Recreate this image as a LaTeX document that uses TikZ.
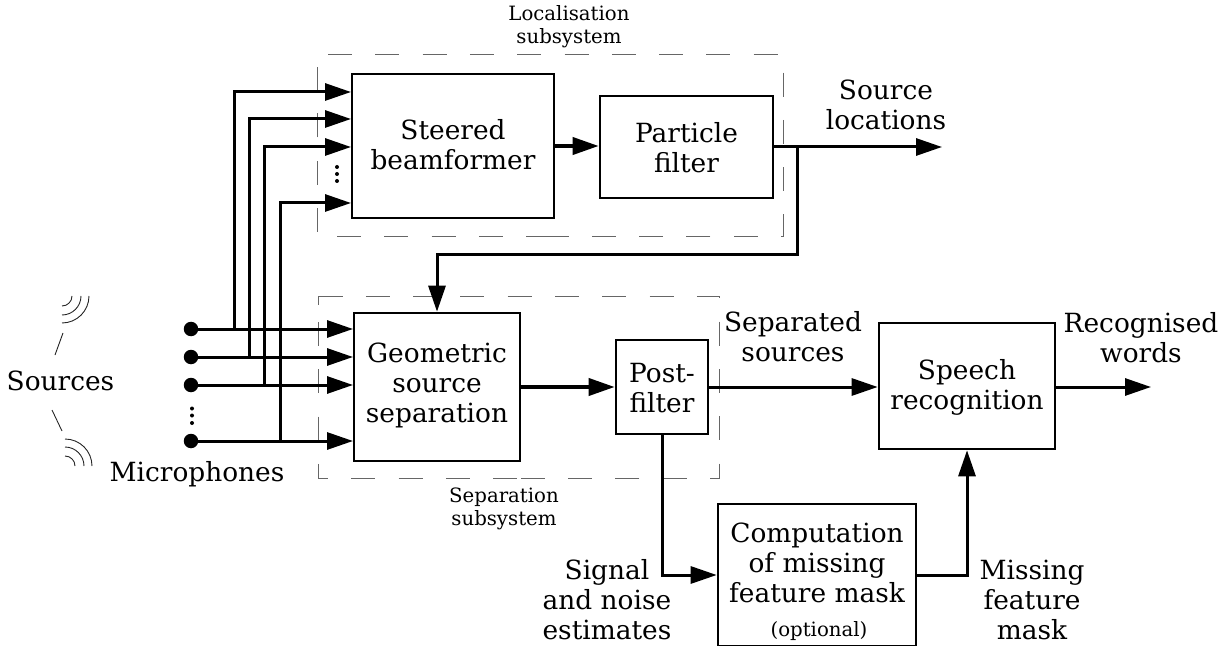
\documentclass[tikz,border=0pt]{standalone}
\usepackage{fontspec}
\setmainfont{DejaVu Serif}
\usetikzlibrary{arrows.meta}
\tikzset{
  blockbox/.style={draw=black,line width=2.6bp,fill=white,align=center,inner sep=0pt,font=\fontsize{26.5}{30}\selectfont},
  lbl/.style={align=center,inner sep=0pt,font=\fontsize{26.5}{30}\selectfont},
  smalllbl/.style={align=center,inner sep=0pt,font=\fontsize{19.8}{23}\selectfont},
  wire/.style={line width=3bp,-{Triangle[length=26bp,width=17bp]}},
  boldwire/.style={line width=3.8bp,-{Triangle[length=26bp,width=17bp]}},
  group/.style={draw=black!60,line width=1bp,dash pattern=on 24bp off 23.3bp},
  groupsolid/.style={draw=black!60,line width=1bp},
  thin line/.style={line width=0.9bp,draw=black!85},
  mic/.style={circle,fill=black,inner sep=0pt,minimum size=14.5bp},
  dotc/.style={circle,fill=black,inner sep=0pt,minimum size=4bp},
}
\begin{document}
\begin{tikzpicture}[x=1bp,y=-1bp]
\useasboundingbox (0,0) rectangle (1226,646);
% groups
\draw[group] (328,54.5) -- (783,54.5) -- (783,236.5) -- (543,236.5);
\draw[group] (337,236.5) -- (549,236.5);
\draw[group] (317,232) -- (317,67);
\draw[group] (318.5,296.5) -- (719,296.5) -- (719,478.5) -- (520,478.5);
\draw[group] (318.5,322) -- (318.5,478.5) -- (520,478.5);
\draw[groupsolid] (318.5,296.5) -- (318.5,305);
% blocks
\node[blockbox,minimum width=202bp,minimum height=144bp] (steer) at (453,146) {};
\node[lbl] (steertext) at (453,145) {Steered\\beamformer};
\node[blockbox,minimum width=173bp,minimum height=102bp] (pf) at (686.5,147) {};
\node[lbl] (pftext) at (686.5,148) {Particle\\filter};
\node[blockbox,minimum width=166bp,minimum height=148bp] (gss) at (437,387) {};
\node[lbl] (gsstext) at (437,385.5) {Geometric\\source\\separation};
\node[blockbox,minimum width=92bp,minimum height=94bp] (post) at (662,387) {};
\node[lbl] (posttext) at (662,388) {Post-\\filter};
\node[blockbox,minimum width=176bp,minimum height=126bp] (asr) at (967,386) {};
\node[lbl] (asrtext) at (967,387) {Speech\\recognition};
\node[draw=black,line width=2.6bp,fill=white,minimum width=198bp,minimum height=142bp] (mask) at (817,575) {};
\node[lbl] (masktext) at (817,563) {Computation\\of missing\\feature mask};
\node[smalllbl] (opt) at (819,631) {(optional)};
% microphones
\node[mic] (m1) at (191,329) {};
\node[mic] (m2) at (191,357) {};
\node[mic] (m3) at (191,385) {};
\node[mic] (m4) at (191,441) {};
\node[dotc] at (192,408.5) {};
\node[dotc] at (192,415.5) {};
\node[dotc] at (192,423) {};
\node[dotc] at (337,167) {};
\node[dotc] at (337,174) {};
\node[dotc] at (337,181) {};
% junctions
\coordinate (j1) at (234.5,329); \coordinate (t1) at (234.5,92);
\coordinate (j2) at (249.3,357); \coordinate (t2) at (249.3,119);
\coordinate (j3) at (264,385); \coordinate (t3) at (264,147);
\coordinate (j4) at (280,441); \coordinate (t4) at (280,203);
\coordinate (e1) at (353,329);
\coordinate (e2) at (353,357);
\coordinate (e3) at (353,385);
\coordinate (e4) at (353,441);
\coordinate (h1) at (351,92);
\coordinate (h2) at (351,119);
\coordinate (h3) at (351,147);
\coordinate (h4) at (351,203);
\draw[wire] (m1) -- (e1);
\draw[wire] (m2) -- (e2);
\draw[wire] (m3) -- (e3);
\draw[wire] (m4) -- (e4);
\draw[wire] (j1) -- (t1) -- (h1);
\draw[wire] (j2) -- (t2) -- (h2);
\draw[wire] (j3) -- (t3) -- (h3);
\draw[wire] (j4) -- (t4) -- (h4);
% signal flow
\coordinate (sl) at (942,147);
\coordinate (b1) at (797,147);
\coordinate (b2) at (797,255);
\coordinate (b3) at (437,255);
\coordinate (rw) at (1151,387);
\coordinate (pb) at (662,575);
\coordinate (mb) at (967,575);
\draw[boldwire] (steer.east |- 0,146) -- (pf.west |- 0,146);
\draw[wire] (pf.east) -- (sl);
\draw[wire] (b1) -- (b2) -- (b3) -- (gss.north);
\draw[boldwire] (gss.east) -- (post.west);
\draw[wire] (post.east) -- (asr.west |- post.east);
\draw[wire] (asr.east |- rw) -- (rw);
\draw[wire] (post.south) -- (pb) -- (mask.west);
\draw[wire] (mask.east) -- (mb) -- (asr.south);
% text
\node[lbl] (a) at (886,104.5) {Source\\locations};
\node[lbl] (b) at (793,337) {Separated\\sources};
\node[lbl] (c) at (1141,337.5) {Recognised\\words};
\node[lbl] (d) at (607,600) {Signal\\and noise\\estimates};
\node[lbl] (e) at (1032,600) {Missing\\feature\\mask};
\node[lbl] (f) at (197,474.5) {Microphones};
\node[lbl] (s) at (60.5,380.5) {Sources};
\node[smalllbl] (g) at (569,27) {Localisation\\subsystem};
\node[smalllbl] (h) at (504,508.5) {Separation\\subsystem};
% sources
\draw[thin line] (63,333) -- (55,355);
\draw[thin line] (52,410) -- (62,431);
\draw[thin line] (89,296) arc[start angle=0,end angle=-90,radius=27bp];
\draw[thin line] (81,296) arc[start angle=0,end angle=-90,radius=19bp];
\draw[thin line] (72,296) arc[start angle=0,end angle=-90,radius=10bp];
\draw[thin line] (65,439) arc[start angle=90,end angle=0,radius=27bp];
\draw[thin line] (65,447) arc[start angle=90,end angle=0,radius=19bp];
\draw[thin line] (65,456) arc[start angle=90,end angle=0,radius=10bp];
\end{tikzpicture}
\end{document}
